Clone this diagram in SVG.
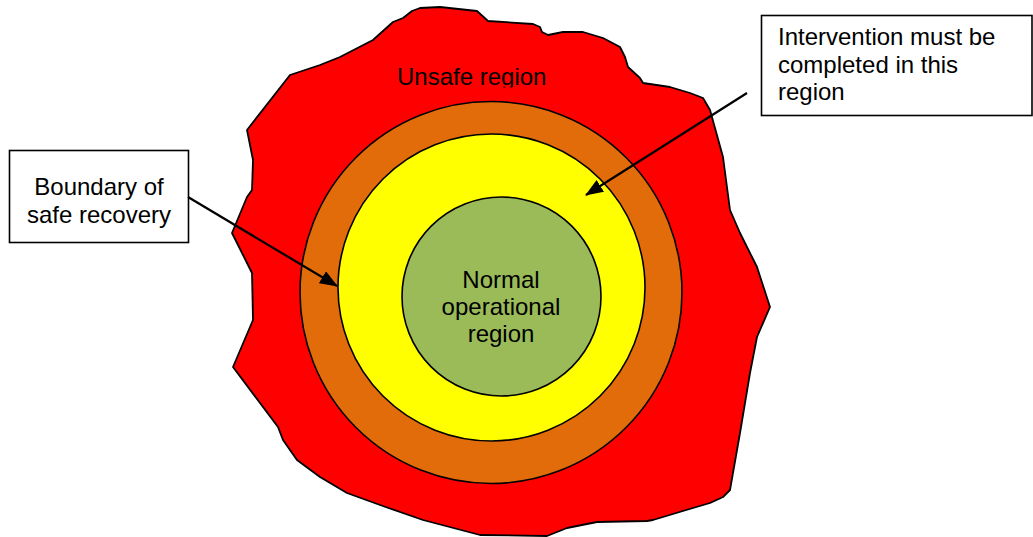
<svg xmlns="http://www.w3.org/2000/svg" width="1033" height="537" viewBox="0 0 1033 537">
<style>
.t{font-family:"Liberation Sans",Arial,sans-serif;font-size:24px;fill:#000}
.ring{stroke:#000;stroke-width:1.6}
.box{fill:#fff;stroke:#000;stroke-width:1.6}
.conn{stroke:#000;stroke-width:2.2;fill:none}
</style>
<defs>
<marker id="ah" markerUnits="userSpaceOnUse" markerWidth="18" markerHeight="14" viewBox="0 0 18 14" refX="17" refY="7" orient="auto">
<path d="M0,0 L18,7 L0,14 Z" fill="#000"/>
</marker>
<clipPath id="uclip"><rect x="380" y="50" width="200" height="37.5"/></clipPath>
</defs>
<rect width="1033" height="537" fill="#fff"/>
<g id="unsafe">
<path fill="#ff0000" stroke="#000" stroke-width="1.8" stroke-linejoin="round" d="M412,11 L420,8 L440,7 L477,11 L488,21 L533,24 L540,27 L542,32 L548,35 L563,32 L583,32 L603,38 L620,47 L625,57 L628,67 L640,78 L643,83 L670,87 L690,93 L703,98 L710,110 L723,157 L730,210 L740,233 L757,267 L770,307 L757,337 L750,373 L740,433 L730,490 L723,497 L710,503 L693,508 L653,520 L647,521 L597,522 L567,528 L547,536 L480,535 L423,520 L380,505 L347,493 L320,477 L297,460 L283,440 L278,427 L233,367 L253,320 L252,273 L232,233 L247,197 L252,190 L253,160 L247,130 L290,75 L320,65 L340,57 L373,40 L393,22 L403,18 Z"/>
<text class="t" x="397" y="85" clip-path="url(#uclip)">Unsafe region</text>
</g>
<g id="recovery">
<circle class="ring" cx="491" cy="292.5" r="191" fill="#e36c0a"/>
</g>
<g id="intervention">
<circle class="ring" cx="491.5" cy="287.5" r="153.5" fill="#ffff00"/>
</g>
<g id="normal">
<circle class="ring" cx="501.5" cy="296.5" r="99.5" fill="#9bbb59"/>
<text class="t" text-anchor="middle" x="501" y="288">Normal</text>
<text class="t" text-anchor="middle" x="501" y="315">operational</text>
<text class="t" text-anchor="middle" x="501" y="342">region</text>
</g>
<g id="label-boundary">
<rect class="box" x="9.5" y="150.5" width="179" height="92"/>
<text class="t" text-anchor="middle" x="99" y="195">Boundary of</text>
<text class="t" text-anchor="middle" x="99" y="222.5">safe recovery</text>
</g>
<g id="label-intervention">
<rect class="box" x="761.5" y="15.5" width="270.5" height="100"/>
<text class="t" x="778" y="45">Intervention must be</text>
<text class="t" x="778" y="72.5">completed in this</text>
<text class="t" x="778" y="100">region</text>
</g>
<g id="connectors">
<line class="conn" x1="188" y1="197" x2="337" y2="286" marker-end="url(#ah)"/>
<line class="conn" x1="747" y1="93" x2="586" y2="195" marker-end="url(#ah)"/>
</g>
</svg>
